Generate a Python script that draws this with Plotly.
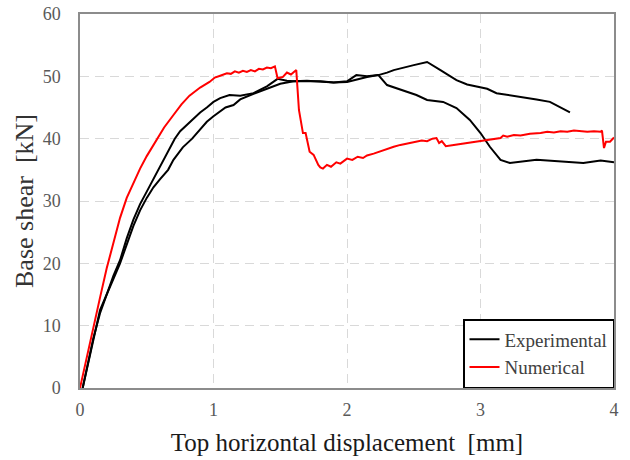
import plotly.graph_objects as go

# Experimental curve A
expA_x = [0.02, 0.06, 0.1, 0.15, 0.2, 0.25, 0.3, 0.35, 0.4, 0.45, 0.5, 0.55, 0.6, 0.66, 0.71, 0.75, 0.8, 0.85,
          0.9, 0.95, 1.0, 1.05, 1.12, 1.2, 1.3, 1.4, 1.48, 1.55, 1.6, 1.7, 1.8, 1.9, 2.0, 2.07, 2.15, 2.235,
          2.3, 2.35, 2.5, 2.6, 2.7, 2.82, 2.9, 3.05, 3.12, 3.25, 3.42, 3.52, 3.67]
expA_y = [0, 4, 8, 12, 15, 18, 20.5, 24, 27, 29.5, 31.5, 33.5, 35.5, 38, 40, 41.2, 42.2, 43.3,
          44.2, 45, 45.9, 46.5, 47.0, 46.9, 47.3, 48.4, 49.6, 49.3, 49.2, 49.3, 49.1, 49.0, 49.2, 50.2, 50.0, 50.2,
          50.6, 51.0, 51.8, 52.3, 51.0, 49.4, 48.7, 48.0, 47.3, 46.9, 46.3, 45.9, 44.2]

# Experimental curve B
expB_x = [0.02, 0.06, 0.1, 0.15, 0.2, 0.3, 0.4, 0.45, 0.5, 0.55, 0.6, 0.66, 0.7, 0.77, 0.84, 0.9, 0.95, 1.0,
          1.09, 1.15, 1.2, 1.3, 1.4, 1.5, 1.6, 1.7, 1.8, 1.9, 2.0, 2.15, 2.235, 2.3, 2.37, 2.47, 2.52, 2.6,
          2.72, 2.82, 2.92, 3.0, 3.07, 3.15, 3.22, 3.42, 3.67, 3.77, 3.9, 4.0]
expB_y = [0, 4, 8, 12.5, 15, 20, 26, 28.5, 30.5, 32.2, 33.5, 35, 36.6, 38.6, 40, 41.5, 42.7, 43.6,
          45, 45.4, 46.3, 47.2, 48, 48.8, 49.2, 49.2, 49.2, 49.0, 49.1, 49.9, 50.2, 48.6, 48.1, 47.3, 47.0, 46.2,
          45.9, 44.9, 43.0, 40.9, 38.7, 36.6, 36.1, 36.6, 36.3, 36.1, 36.5, 36.2]

# Numerical curve
num_x = [0, 0.02, 0.05, 0.1, 0.15, 0.2, 0.25, 0.3, 0.35, 0.4, 0.45, 0.5, 0.57, 0.63, 0.7, 0.76, 0.82, 0.9,
         0.97, 1.01, 1.05, 1.1, 1.13, 1.16,
         1.19, 1.22, 1.25, 1.28, 1.31, 1.34, 1.37, 1.4, 1.43, 1.46, 1.48, 1.52, 1.55, 1.58, 1.62, 1.64, 1.67,
         1.69, 1.72, 1.75, 1.785, 1.8, 1.82, 1.85, 1.88, 1.92, 1.95, 2.0, 2.04, 2.08, 2.12, 2.15, 2.2, 2.24,
         2.27, 2.31, 2.35, 2.4, 2.44, 2.48, 2.52, 2.56, 2.6, 2.64, 2.67, 2.69, 2.71, 2.74, 2.8, 2.9, 3.0,
         3.1, 3.15, 3.17, 3.2, 3.25, 3.3, 3.37, 3.45, 3.5, 3.55, 3.6, 3.65, 3.7, 3.75, 3.8, 3.85, 3.9, 3.91,
         3.925, 3.94, 3.97, 4.0]
num_y = [0, 2, 5, 10, 14.5, 19.2, 23.5, 27.3, 30.5, 33, 35.2, 37.2, 39.8, 41.8, 43.8, 45.5, 46.9, 48.2,
         49.1, 49.8, 50.1, 50.5, 50.4, 50.8,
         50.6, 50.9, 50.7, 51.0, 50.8, 51.2, 51.1, 51.4, 51.3, 51.6, 49.7, 49.9, 50.6, 50.3, 51.0, 44.6, 40.9,
         40.9, 37.9, 37.4, 35.8, 35.4, 35.2, 35.8, 35.5, 36.2, 36.0, 36.8, 36.6, 37.1, 36.9, 37.3, 37.6, 37.9,
         38.2, 38.5, 38.7, 39.0, 39.2, 39.4, 39.5, 39.7, 39.6, 40.0, 40.1, 39.3, 39.6, 38.8, 39.0, 39.3, 39.6,
         39.9, 40.1, 40.5, 40.3, 40.6, 40.5, 40.8, 40.9, 41.1, 41.0, 41.2, 41.1, 41.3, 41.2, 41.1, 41.2, 41.1, 41.3,
         38.5, 39.5, 39.5, 40.2]

x_ticks = [0, 1, 2, 3, 4]
y_ticks = [0, 10, 20, 30, 40, 50, 60]

fig = go.Figure()
fig.add_trace(go.Scatter(x=expA_x, y=expA_y, mode="lines", name="Experimental",
                         line=dict(color="black", width=2), legendgroup="exp"))
fig.add_trace(go.Scatter(x=expB_x, y=expB_y, mode="lines", name="Experimental",
                         line=dict(color="black", width=2), legendgroup="exp", showlegend=False))
fig.add_trace(go.Scatter(x=num_x, y=num_y, mode="lines", name="Numerical",
                         line=dict(color="#ff0000", width=2)))

serif = "Liberation Serif, Times New Roman, serif"
fig.update_layout(
    width=630, height=460,
    margin=dict(l=80, r=16, t=14, b=72, autoexpand=False),
    plot_bgcolor="white", paper_bgcolor="white",
    font=dict(family=serif, color="#595959", size=18),
    legend=dict(x=1, y=0, xanchor="right", yanchor="bottom",
                bgcolor="white", bordercolor="black", borderwidth=1.5,
                font=dict(family=serif, size=19, color="#404040"),
                tracegroupgap=0, itemwidth=30),
    showlegend=True,
)
fig.update_xaxes(range=[0, 4], tickvals=x_ticks, ticks="", showgrid=True, automargin=False,
                 gridcolor="#d9d9d9", griddash="9px,6px", gridwidth=1.2,
                 showline=True, linecolor="#8c8c8c", linewidth=1.5, mirror=True,
                 zeroline=False, tickfont=dict(size=18, color="#595959"), ticklabelstandoff=5,
                 title=dict(text="Top horizontal displacement  [mm]",
                            font=dict(family=serif, size=25, color="#1a1a1a"), standoff=14))
fig.update_yaxes(range=[0, 60], tickvals=y_ticks, ticks="", showgrid=True, automargin=False,
                 gridcolor="#d9d9d9", griddash="9px,6px", gridwidth=1.2,
                 showline=True, linecolor="#8c8c8c", linewidth=1.5, mirror=True,
                 zeroline=False, tickfont=dict(size=18, color="#595959"), ticklabelstandoff=14,
                 title=dict(text="Base shear  [kN]",
                            font=dict(family=serif, size=26, color="#333333"), standoff=2))

fig.write_html("out.html")
